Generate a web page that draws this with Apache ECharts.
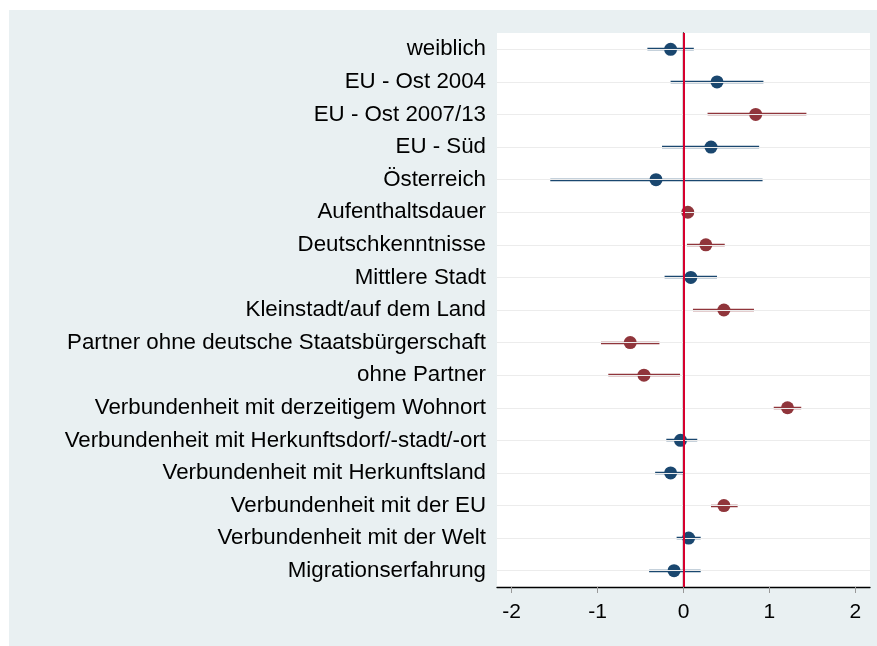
<!DOCTYPE html>
<html>
<head>
<meta charset="utf-8">
<script src="https://cdn.jsdelivr.net/npm/echarts@6/dist/echarts.min.js"></script>
<style>
html,body{margin:0;padding:0;background:#ffffff;width:877px;height:646px;overflow:hidden;}
#chart{position:absolute;left:9px;top:10px;width:868px;height:636px;background:#e9f0f2;}
</style>
</head>
<body>
<div id="chart"></div>
<script>
var labels = ["weiblich","EU - Ost 2004","EU - Ost 2007/13","EU - Süd","Österreich","Aufenthaltsdauer","Deutschkenntnisse","Mittlere Stadt","Kleinstadt/auf dem Land","Partner ohne deutsche Staatsbürgerschaft","ohne Partner","Verbundenheit mit derzeitigem Wohnort","Verbundenheit mit Herkunftsdorf/-stadt/-ort","Verbundenheit mit Herkunftsland","Verbundenheit mit der EU","Verbundenheit mit der Welt","Migrationserfahrung"];
var coef = [-0.15, 0.39, 0.84, 0.32, -0.32, 0.05, 0.26, 0.085, 0.47, -0.62, -0.46, 1.21, -0.035, -0.15, 0.47, 0.06, -0.11];
var lower = [-0.42, -0.15, 0.28, -0.25, -1.55, 0.03, 0.04, -0.22, 0.11, -0.96, -0.875, 1.05, -0.20, -0.33, 0.32, -0.08, -0.40];
var upper = [0.12, 0.93, 1.43, 0.88, 0.92, 0.07, 0.48, 0.39, 0.82, -0.28, -0.04, 1.37, 0.16, 0.0, 0.63, 0.20, 0.20];
var group = ["n","n","p","n","n","p","p","n","p","p","p","p","n","n","p","n","n"];
var xTicks = [-2, -1, 0, 1, 2];

var colors = {n: "#1a476f", p: "#90353b"};

var ciData = labels.map(function(l, i){ return [lower[i], upper[i], i]; });
var ptData = labels.map(function(l, i){ return {value: [coef[i], l], itemStyle: {color: colors[group[i]], opacity: 1}}; });

var chart = echarts.init(document.getElementById('chart'), null, {renderer: 'canvas'});
chart.setOption({
  animation: false,
  grid: {left: 488, top: 23, right: 7, bottom: 59, show: true, backgroundColor: '#ffffff', borderWidth: 0},
  xAxis: {
    type: 'value', min: -2.17, max: 2.17,
    axisLine: {show: true, onZero: false, lineStyle: {color: '#000', width: 1.3}},
    axisTick: {show: true, customValues: xTicks, length: 6, lineStyle: {color: '#999'}},
    axisLabel: {customValues: xTicks, color: '#000', fontSize: 21, fontFamily: 'Liberation Sans, Arial, sans-serif', margin: 15},
    splitLine: {show: false}
  },
  yAxis: {
    type: 'category', data: labels, inverse: true,
    axisLine: {show: true, lineStyle: {color: '#000', width: 1.3}},
    axisTick: {show: true, alignWithLabel: true, length: 5, lineStyle: {color: '#888'}},
    axisLabel: {color: '#000', fontSize: 22.3, fontFamily: 'Liberation Sans, Arial, sans-serif', margin: 11},
    splitLine: {show: false}
  },
  series: [
    {
      type: 'line', data: [], silent: true, z: 1,
      markLine: {
        silent: true, symbol: 'none', label: {show: false},
        lineStyle: {color: '#ececec', width: 1, type: 'solid'},
        data: labels.map(function(l){ return {yAxis: l}; })
      }
    },
    {
      type: 'custom', z: 2, data: ciData, silent: true,
      renderItem: function(params, api){
        var idx = api.value(2);
        var a = api.coord([api.value(0), labels[idx]]);
        var b = api.coord([api.value(1), labels[idx]]);
        var y = Math.round(a[1]);
        return {type: 'line', shape: {x1: a[0], y1: y, x2: b[0], y2: y}, style: {stroke: colors[group[idx]], lineWidth: 2.5, opacity: 1}};
      }
    },
    {
      type: 'line', data: [], silent: true, z: 3,
      markLine: {
        silent: true, symbol: 'none', label: {show: false},
        lineStyle: {color: '#d6002e', width: 2, type: 'solid', opacity: 1},
        data: [{xAxis: 0}]
      }
    },
    {
      type: 'scatter', z: 4, symbol: 'circle', symbolSize: 13, data: ptData
    }
  ]
});
</script>
</body>
</html>
